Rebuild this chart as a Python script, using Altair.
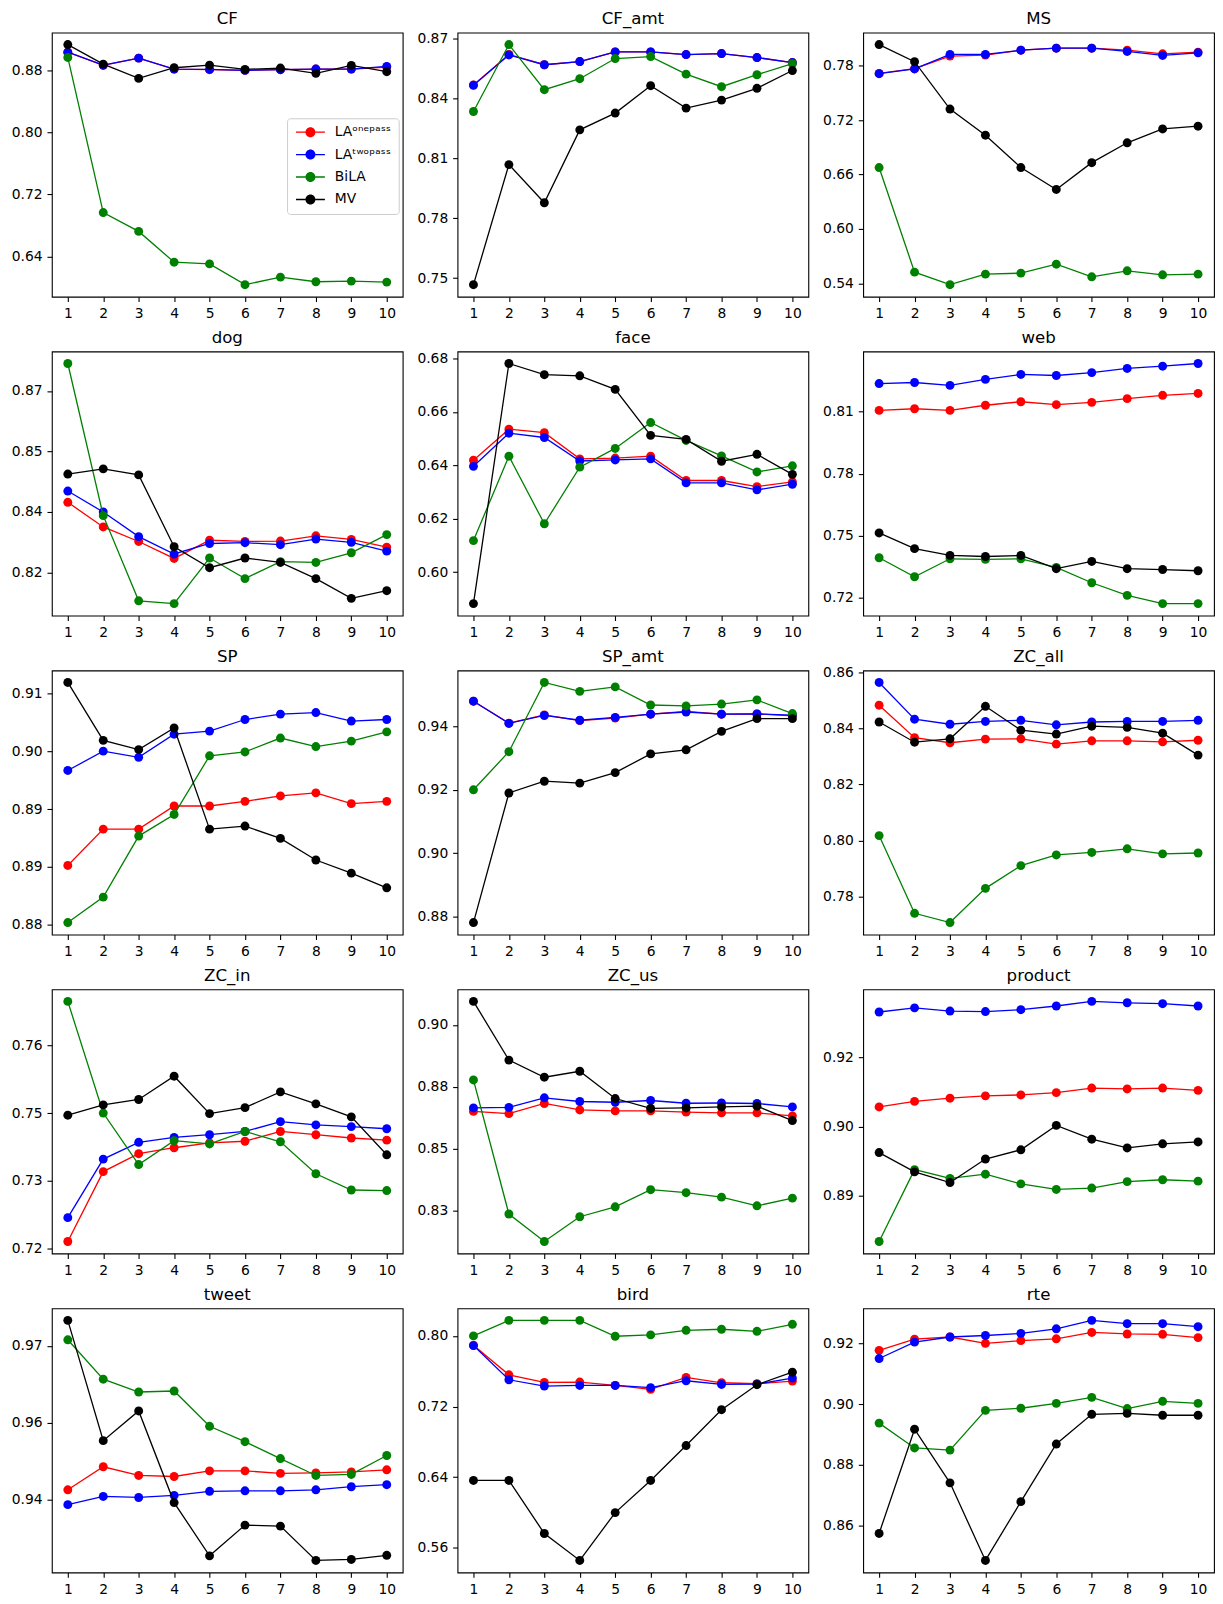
import altair as alt
import pandas as pd

FONT = "DejaVu Sans"

x_vals = list(range(1, 11))
series_names = ["LAᵒⁿᵉᵖᵃˢˢ", "LAᵗʷᵒᵖᵃˢˢ", "BiLA", "MV"]
series_colors = ["red", "blue", "green", "black"]

# ---------------- data ----------------
CF_one = [0.9035, 0.8864, 0.8958, 0.8817, 0.8809, 0.8800, 0.8809, 0.8817, 0.8817, 0.8843]
CF_two = [0.9035, 0.8868, 0.8958, 0.8817, 0.8813, 0.8800, 0.8809, 0.8817, 0.8817, 0.8852]
CF_bila = [0.8967, 0.6967, 0.6724, 0.6327, 0.6305, 0.6037, 0.6134, 0.6075, 0.6083, 0.6070]
CF_mv = [0.9133, 0.8881, 0.8697, 0.8834, 0.8868, 0.8813, 0.8830, 0.8762, 0.8864, 0.8783]
CF_ticks = [0.64, 0.72, 0.80, 0.88]
CF_labels = ["0.64", "0.72", "0.80", "0.88"]

CFamt_one = [0.8467, 0.8620, 0.8568, 0.8584, 0.8632, 0.8632, 0.8619, 0.8624, 0.8604, 0.8579]
CFamt_two = [0.8465, 0.8617, 0.8568, 0.8584, 0.8632, 0.8632, 0.8619, 0.8624, 0.8604, 0.8579]
CFamt_bila = [0.8334, 0.8669, 0.8443, 0.8498, 0.8599, 0.8609, 0.8521, 0.8458, 0.8518, 0.8573]
CFamt_mv = [0.7467, 0.8068, 0.7877, 0.8242, 0.8326, 0.8463, 0.8351, 0.8391, 0.8450, 0.8539]
CFamt_ticks = [0.75, 0.78, 0.81, 0.84, 0.87]
CFamt_labels = ["0.75", "0.78", "0.81", "0.84", "0.87"]

MS_one = [0.7715, 0.7767, 0.7906, 0.7917, 0.7971, 0.7993, 0.7993, 0.7971, 0.7931, 0.7950]
MS_two = [0.7712, 0.7764, 0.7924, 0.7924, 0.7971, 0.7993, 0.7993, 0.7957, 0.7913, 0.7942]
MS_bila = [0.6677, 0.5524, 0.5386, 0.5502, 0.5513, 0.5612, 0.5473, 0.5539, 0.5495, 0.5502]
MS_mv = [0.8033, 0.7844, 0.7322, 0.7034, 0.6677, 0.6436, 0.6731, 0.6950, 0.7103, 0.7133]
MS_ticks = [0.54, 0.60, 0.66, 0.72, 0.78]
MS_labels = ["0.54", "0.60", "0.66", "0.72", "0.78"]

dog_one = [0.8374, 0.8313, 0.8277, 0.8235, 0.8280, 0.8277, 0.8278, 0.8291, 0.8282, 0.8263]
dog_two = [0.8402, 0.8350, 0.8289, 0.8246, 0.8272, 0.8274, 0.8269, 0.8283, 0.8275, 0.8253]
dog_bila = [0.8718, 0.8341, 0.8130, 0.8123, 0.8236, 0.8185, 0.8227, 0.8225, 0.8249, 0.8294]
dog_mv = [0.8444, 0.8457, 0.8442, 0.8264, 0.8212, 0.8236, 0.8225, 0.8185, 0.8136, 0.8155]
dog_ticks = [0.82, 0.835, 0.85, 0.865]
dog_labels = ["0.82", "0.84", "0.85", "0.87"]

face_one = [0.6419, 0.6535, 0.6522, 0.6424, 0.6427, 0.6434, 0.6343, 0.6343, 0.6320, 0.6338]
face_two = [0.6396, 0.6520, 0.6504, 0.6416, 0.6420, 0.6424, 0.6334, 0.6334, 0.6308, 0.6329]
face_bila = [0.6118, 0.6434, 0.6181, 0.6393, 0.6463, 0.6560, 0.6493, 0.6435, 0.6375, 0.6398]
face_mv = [0.5882, 0.6781, 0.6739, 0.6735, 0.6684, 0.6512, 0.6497, 0.6415, 0.6441, 0.6366]
face_ticks = [0.60, 0.62, 0.64, 0.66, 0.68]
face_labels = ["0.60", "0.62", "0.64", "0.66", "0.68"]

web_one = [0.8106, 0.8114, 0.8106, 0.8131, 0.8148, 0.8134, 0.8145, 0.8163, 0.8179, 0.8188]
web_two = [0.8236, 0.8241, 0.8227, 0.8256, 0.8280, 0.8275, 0.8289, 0.8309, 0.8320, 0.8333]
web_bila = [0.7393, 0.7301, 0.7388, 0.7385, 0.7388, 0.7346, 0.7272, 0.7211, 0.7171, 0.7171]
web_mv = [0.7513, 0.7437, 0.7404, 0.7399, 0.7404, 0.7340, 0.7375, 0.7340, 0.7336, 0.7330]
web_ticks = [0.72, 0.75, 0.78, 0.81]
web_labels = ["0.72", "0.75", "0.78", "0.81"]

SP_one = [0.8877, 0.8924, 0.8924, 0.8954, 0.8954, 0.8960, 0.8967, 0.8971, 0.8957, 0.8960]
SP_two = [0.9000, 0.9025, 0.9017, 0.9047, 0.9051, 0.9066, 0.9073, 0.9075, 0.9064, 0.9066]
SP_bila = [0.8803, 0.8836, 0.8915, 0.8943, 0.9019, 0.9024, 0.9042, 0.9031, 0.9038, 0.9050]
SP_mv = [0.9114, 0.9039, 0.9027, 0.9055, 0.8924, 0.8928, 0.8912, 0.8884, 0.8867, 0.8848]
SP_ticks = [0.88, 0.8875, 0.895, 0.9025, 0.91]
SP_labels = ["0.88", "0.89", "0.89", "0.90", "0.91"]

SPamt_one = [0.9479, 0.9410, 0.9436, 0.9418, 0.9426, 0.9438, 0.9447, 0.9438, 0.9439, 0.9433]
SPamt_two = [0.9479, 0.9409, 0.9434, 0.9419, 0.9428, 0.9438, 0.9445, 0.9438, 0.9439, 0.9435]
SPamt_bila = [0.9200, 0.9320, 0.9538, 0.9510, 0.9524, 0.9467, 0.9464, 0.9470, 0.9483, 0.9440]
SPamt_mv = [0.8782, 0.9190, 0.9227, 0.9221, 0.9254, 0.9313, 0.9326, 0.9384, 0.9424, 0.9424]
SPamt_ticks = [0.88, 0.90, 0.92, 0.94]
SPamt_labels = ["0.88", "0.90", "0.92", "0.94"]

ZCall_one = [0.8483, 0.8367, 0.8349, 0.8362, 0.8363, 0.8344, 0.8356, 0.8356, 0.8352, 0.8358]
ZCall_two = [0.8564, 0.8433, 0.8415, 0.8425, 0.8429, 0.8413, 0.8423, 0.8425, 0.8425, 0.8429]
ZCall_bila = [0.8018, 0.7741, 0.7708, 0.7830, 0.7911, 0.7949, 0.7958, 0.7971, 0.7953, 0.7956]
ZCall_mv = [0.8423, 0.8351, 0.8363, 0.8479, 0.8394, 0.8380, 0.8408, 0.8404, 0.8383, 0.8305]
ZCall_ticks = [0.78, 0.80, 0.82, 0.84, 0.86]
ZCall_labels = ["0.78", "0.80", "0.82", "0.84", "0.86"]

ZCin_one = [0.7213, 0.7342, 0.7375, 0.7386, 0.7395, 0.7398, 0.7416, 0.7410, 0.7404, 0.7400]
ZCin_two = [0.7257, 0.7365, 0.7396, 0.7405, 0.7410, 0.7416, 0.7434, 0.7428, 0.7425, 0.7421]
ZCin_bila = [0.7656, 0.7450, 0.7355, 0.7399, 0.7393, 0.7416, 0.7397, 0.7338, 0.7308, 0.7307]
ZCin_mv = [0.7446, 0.7465, 0.7475, 0.7518, 0.7449, 0.7460, 0.7489, 0.7467, 0.7443, 0.7373]
ZCin_ticks = [0.72, 0.7325, 0.745, 0.7575]
ZCin_labels = ["0.72", "0.73", "0.75", "0.76"]

ZCus_one = [0.8651, 0.8642, 0.8683, 0.8657, 0.8653, 0.8653, 0.8648, 0.8645, 0.8645, 0.8633]
ZCus_two = [0.8665, 0.8667, 0.8706, 0.8691, 0.8688, 0.8695, 0.8684, 0.8685, 0.8683, 0.8669]
ZCus_bila = [0.8778, 0.8237, 0.8126, 0.8226, 0.8266, 0.8335, 0.8323, 0.8305, 0.8270, 0.8301]
ZCus_mv = [0.9095, 0.8858, 0.8789, 0.8813, 0.8703, 0.8663, 0.8665, 0.8669, 0.8672, 0.8614]
ZCus_ticks = [0.825, 0.85, 0.875, 0.90]
ZCus_labels = ["0.83", "0.85", "0.88", "0.90"]

product_one = [0.9043, 0.9055, 0.9062, 0.9067, 0.9069, 0.9074, 0.9084, 0.9082, 0.9084, 0.9079]
product_two = [0.9249, 0.9258, 0.9251, 0.9250, 0.9254, 0.9262, 0.9272, 0.9269, 0.9267, 0.9262]
product_bila = [0.8751, 0.8907, 0.8888, 0.8897, 0.8876, 0.8864, 0.8867, 0.8881, 0.8885, 0.8882]
product_mv = [0.8944, 0.8902, 0.8879, 0.8930, 0.8950, 0.9003, 0.8973, 0.8954, 0.8963, 0.8967]
product_ticks = [0.885, 0.90, 0.915]
product_labels = ["0.89", "0.90", "0.92"]

tweet_one = [0.9419, 0.9464, 0.9447, 0.9445, 0.9456, 0.9456, 0.9451, 0.9452, 0.9454, 0.9458]
tweet_two = [0.9390, 0.9406, 0.9404, 0.9408, 0.9416, 0.9417, 0.9417, 0.9419, 0.9425, 0.9429]
tweet_bila = [0.9712, 0.9635, 0.9610, 0.9612, 0.9543, 0.9513, 0.9480, 0.9447, 0.9449, 0.9486]
tweet_mv = [0.9750, 0.9515, 0.9573, 0.9394, 0.9290, 0.9350, 0.9348, 0.9281, 0.9283, 0.9291]
tweet_ticks = [0.94, 0.955, 0.97]
tweet_labels = ["0.94", "0.96", "0.97"]

bird_one = [0.7894, 0.7559, 0.7473, 0.7477, 0.7439, 0.7394, 0.7529, 0.7469, 0.7458, 0.7488]
bird_two = [0.7890, 0.7503, 0.7432, 0.7439, 0.7439, 0.7413, 0.7492, 0.7450, 0.7454, 0.7522]
bird_bila = [0.8000, 0.8176, 0.8176, 0.8176, 0.7996, 0.8011, 0.8063, 0.8075, 0.8052, 0.8131]
bird_mv = [0.6363, 0.6363, 0.5762, 0.5457, 0.5999, 0.6363, 0.6758, 0.7164, 0.7447, 0.7589]
bird_ticks = [0.56, 0.64, 0.72, 0.80]
bird_labels = ["0.56", "0.64", "0.72", "0.80"]

rte_one = [0.9178, 0.9215, 0.9222, 0.9201, 0.9210, 0.9216, 0.9237, 0.9232, 0.9231, 0.9220]
rte_two = [0.9151, 0.9205, 0.9222, 0.9227, 0.9234, 0.9249, 0.9277, 0.9266, 0.9266, 0.9256]
rte_bila = [0.8938, 0.8856, 0.8849, 0.8980, 0.8987, 0.9003, 0.9023, 0.8986, 0.9010, 0.9003]
rte_mv = [0.8574, 0.8918, 0.8741, 0.8485, 0.8679, 0.8869, 0.8967, 0.8970, 0.8964, 0.8964]
rte_ticks = [0.86, 0.88, 0.90, 0.92]
rte_labels = ["0.86", "0.88", "0.90", "0.92"]

panels = [
    ("CF", [CF_one, CF_two, CF_bila, CF_mv], CF_ticks, CF_labels),
    ("CF_amt", [CFamt_one, CFamt_two, CFamt_bila, CFamt_mv], CFamt_ticks, CFamt_labels),
    ("MS", [MS_one, MS_two, MS_bila, MS_mv], MS_ticks, MS_labels),
    ("dog", [dog_one, dog_two, dog_bila, dog_mv], dog_ticks, dog_labels),
    ("face", [face_one, face_two, face_bila, face_mv], face_ticks, face_labels),
    ("web", [web_one, web_two, web_bila, web_mv], web_ticks, web_labels),
    ("SP", [SP_one, SP_two, SP_bila, SP_mv], SP_ticks, SP_labels),
    ("SP_amt", [SPamt_one, SPamt_two, SPamt_bila, SPamt_mv], SPamt_ticks, SPamt_labels),
    ("ZC_all", [ZCall_one, ZCall_two, ZCall_bila, ZCall_mv], ZCall_ticks, ZCall_labels),
    ("ZC_in", [ZCin_one, ZCin_two, ZCin_bila, ZCin_mv], ZCin_ticks, ZCin_labels),
    ("ZC_us", [ZCus_one, ZCus_two, ZCus_bila, ZCus_mv], ZCus_ticks, ZCus_labels),
    ("product", [product_one, product_two, product_bila, product_mv], product_ticks, product_labels),
    ("tweet", [tweet_one, tweet_two, tweet_bila, tweet_mv], tweet_ticks, tweet_labels),
    ("bird", [bird_one, bird_two, bird_bila, bird_mv], bird_ticks, bird_labels),
    ("rte", [rte_one, rte_two, rte_bila, rte_mv], rte_ticks, rte_labels),
]

# ---------------- styling ----------------
PANEL_W = 352
PANEL_H = 265
LEGEND_SYMBOL = ("M-1,-0.14H0.9V0.14H-1Z "
                 "M2.9,-0.14H4.8V0.14H2.9Z "
                 "M2.9,0A1,1,0,1,1,0.9,0A1,1,0,1,1,2.9,0Z")


def label_expr(ticks, labels):
    expr = "''"
    for t, lab in reversed(list(zip(ticks, labels))):
        expr = f"abs(datum.value - {t}) < 1e-7 ? '{lab}' : ({expr})"
    return expr


def make_panel(name, series_vals, ticks, labels, with_legend):
    allv = [v for s in series_vals for v in s]
    lo, hi = min(allv), max(allv)
    pad = 0.05 * (hi - lo)
    x_enc = alt.X("x:Q",
                  scale=alt.Scale(domain=[0.55, 10.45], nice=False, zero=False),
                  axis=alt.Axis(values=x_vals, format="d", title=None, labelAngle=0))
    y_enc = alt.Y("y:Q",
                  scale=alt.Scale(domain=[lo - pad, hi + pad], nice=False, zero=False),
                  axis=alt.Axis(values=ticks, labelExpr=label_expr(ticks, labels), title=None))
    layers = []
    for sname, color, vals in zip(series_names, series_colors, series_vals):
        df = pd.DataFrame({"x": x_vals, "y": vals, "series": sname})
        base = alt.Chart(df).encode(x=x_enc, y=y_enc)
        layers.append(base.mark_line(color=color, strokeWidth=1.3))
        if with_legend:
            pt = base.mark_circle(size=80, opacity=1).encode(
                color=alt.Color(
                    "series:N",
                    scale=alt.Scale(domain=series_names, range=series_colors),
                    legend=alt.Legend(
                        title=None, orient="none", legendX=236, legendY=86,
                        symbolType=LEGEND_SYMBOL, symbolSize=100, symbolStrokeWidth=0,
                        symbolOpacity=1,
                        labelFont=FONT, labelFontSize=13.9, labelColor="black",
                        labelOffset=27, padding=7, rowPadding=7.5,
                        strokeColor="#cccccc", fillColor="rgba(255,255,255,0.8)",
                        cornerRadius=3,
                    ),
                )
            )
        else:
            pt = base.mark_circle(size=80, opacity=1, color=color)
        layers.append(pt)
    # panel title as a text mark so that axis labels never push it around
    title_df = pd.DataFrame({"name": [name]})
    layers.append(
        alt.Chart(title_df).mark_text(
            font=FONT, fontSize=16.7, color="black", align="center", baseline="alphabetic"
        ).encode(text="name:N", x=alt.value(PANEL_W / 2), y=alt.value(-8.3))
    )
    return alt.layer(*layers).properties(width=PANEL_W, height=PANEL_H)


charts = [make_panel(n, s, t, l, i == 0) for i, (n, s, t, l) in enumerate(panels)]
rows = [
    alt.hconcat(*charts[r * 3:(r + 1) * 3], spacing=10)
    .resolve_scale(color="independent").resolve_legend(color="independent")
    for r in range(5)
]

chart = (
    alt.vconcat(*rows, spacing=8)
    .resolve_scale(color="independent")
    .resolve_legend(color="independent")
    .properties(padding=0)
    .configure(font=FONT)
    .configure_view(stroke="black", strokeWidth=1.1)
    .configure_axis(labelFont=FONT, labelFontSize=13.9, labelColor="black",
                    tickColor="black", tickWidth=1.1, tickSize=4.9, labelPadding=4.9,
                    domain=False, grid=False, labelOverlap=False, labelFlush=False,
                    labelBound=False)
    .configure_axisX(minExtent=24, maxExtent=24)
    .configure_axisY(minExtent=43.4, maxExtent=43.4)
)

chart.save("out.html", embed_options={"renderer": "svg", "actions": False})
